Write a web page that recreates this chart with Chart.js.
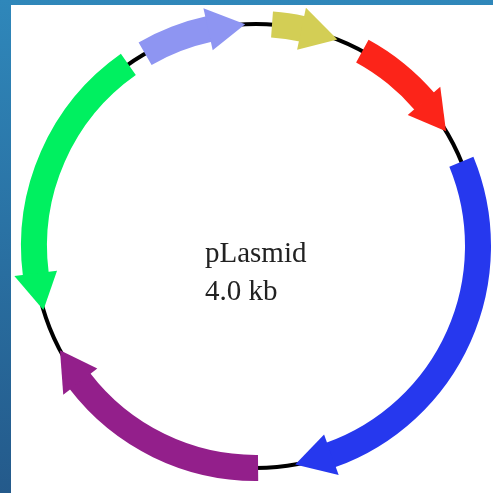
<!DOCTYPE html>
<html>
<head>
<meta charset="utf-8">
<script src="https://cdn.jsdelivr.net/npm/chart.js@4"></script>
<style>
  html, body { margin: 0; padding: 0; }
  body {
    width: 493px; height: 493px; overflow: hidden; position: relative;
    background: linear-gradient(to bottom, #2f87ba, #245a8b);
  }
  #panel { position: absolute; left: 11px; top: 5px; width: 482px; height: 488px; background: #fff; }
  #wrap { position: absolute; left: 0; top: 0; width: 493px; height: 493px; }
  #label {
    position: absolute; left: 205px; top: 233px;
    font-family: "Liberation Serif", "DejaVu Serif", serif;
    font-size: 29px; line-height: 38px; color: #222;
  }
</style>
</head>
<body>
<div id="panel"></div>
<div id="wrap"><canvas id="plasmidChart" width="493" height="493"></canvas></div>
<div id="label">pLasmid<br>4.0 kb</div>
<script>
// plasmid size in bp
const plasmidLength = 4000;
// features (bp, clockwise from the top)
const featureStart = [46, 318, 752, 1994, 2814, 3667];
const featureEnd = [239, 654, 1887, 2689, 3610, 3969];
const featureStrand = [1, 1, 1, 1, -1, 1];
const featureColors = ["#d3ce55", "#fc2419", "#2638ee", "#931f8b", "#00f060", "#8e95f2"];

const HEAD_BP = 105;

// build ring segments: gap / body / head
const segValues = [];
const segColors = [];
const segInfo = [];
let pos = 0;
featureStart.forEach((s, i) => {
    const e = featureEnd[i];
    segValues.push(s - pos); segColors.push("rgba(0,0,0,0)"); segInfo.push({ type: "gap" });
    const body = e - s - HEAD_BP;
    if (featureStrand[i] > 0) {
        segValues.push(body); segColors.push(featureColors[i]); segInfo.push({ type: "body" });
        segValues.push(HEAD_BP); segColors.push("rgba(0,0,0,0)"); segInfo.push({ type: "head", strand: 1, color: featureColors[i] });
    } else {
        segValues.push(HEAD_BP); segColors.push("rgba(0,0,0,0)"); segInfo.push({ type: "head", strand: -1, color: featureColors[i] });
        segValues.push(body); segColors.push(featureColors[i]); segInfo.push({ type: "body" });
    }
    pos = e;
});
segValues.push(plasmidLength - pos); segColors.push("rgba(0,0,0,0)"); segInfo.push({ type: "gap" });

const plasmidPlugin = {
    id: "plasmid",
    beforeDatasetsDraw(chart) {
        const a = chart.getDatasetMeta(0).data[0];
        const ctx = chart.ctx;
        const r = (a.innerRadius + a.outerRadius) / 2;
        ctx.save();
        ctx.beginPath();
        ctx.arc(a.x, a.y, r, 0, Math.PI * 2);
        ctx.lineWidth = 4;
        ctx.strokeStyle = "#000";
        ctx.stroke();
        ctx.restore();
    },
    afterDatasetsDraw(chart) {
        const ctx = chart.ctx;
        chart.getDatasetMeta(0).data.forEach((arc, i) => {
            const info = segInfo[i];
            if (info.type !== "head") return;
            const mid = (arc.innerRadius + arc.outerRadius) / 2;
            const half = (arc.outerRadius - arc.innerRadius) / 2 + 8.5;
            const base = info.strand > 0 ? arc.startAngle - 0.004 : arc.endAngle + 0.004;
            const tip = info.strand > 0 ? arc.endAngle : arc.startAngle;
            ctx.save();
            ctx.beginPath();
            ctx.moveTo(arc.x + (mid - half) * Math.cos(base), arc.y + (mid - half) * Math.sin(base));
            ctx.lineTo(arc.x + (mid + half) * Math.cos(base), arc.y + (mid + half) * Math.sin(base));
            ctx.lineTo(arc.x + mid * Math.cos(tip), arc.y + mid * Math.sin(tip));
            ctx.closePath();
            ctx.fillStyle = info.color;
            ctx.fill();
            ctx.restore();
        });
    }
};

new Chart(document.getElementById("plasmidChart").getContext("2d"), {
    type: "doughnut",
    data: {
        datasets: [{
            data: segValues,
            backgroundColor: segColors,
            borderWidth: 0,
            hoverBorderWidth: 0,
            hoverOffset: 0,
            spacing: 0
        }]
    },
    options: {
        responsive: false,
        animation: false,
        cutout: 209,
        events: [],
        layout: { padding: { left: 21, right: 2, top: 11, bottom: 12 } },
        plugins: {
            legend: { display: false },
            tooltip: { enabled: false }
        }
    },
    plugins: [plasmidPlugin]
});
</script>
</body>
</html>
